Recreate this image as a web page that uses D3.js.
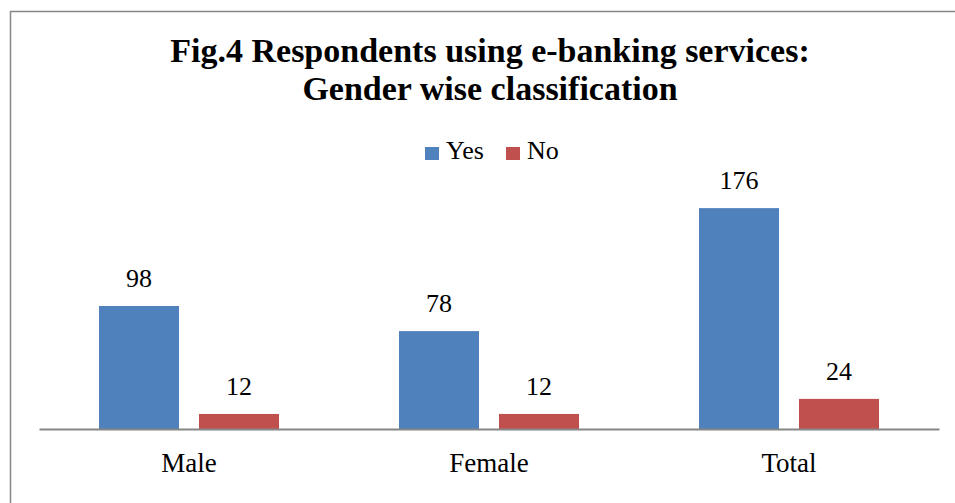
<!DOCTYPE html>
<html>
<head>
<meta charset="utf-8">
<script src="https://cdn.jsdelivr.net/npm/d3@7/dist/d3.min.js"></script>
<style>
  html, body { margin: 0; padding: 0; background: #fff; }
  svg { display: block; }
  text { font-family: "Liberation Serif", "DejaVu Serif", serif; fill: #000; }
</style>
</head>
<body>
<script>
// Respondents using e-banking services, by gender
const categories = ["Male", "Female", "Total"];
const seriesNames = ["Yes", "No"];
const yesValues = [98, 78, 176];
const noValues = [12, 12, 24];
const seriesColors = ["#4f81bd", "#c0504d"];

const W = 955, H = 503;
const FONT = "Liberation Serif, DejaVu Serif, serif";
const svg = d3.select("body").append("svg").attr("width", W).attr("height", H);

// outer chart frame
svg.append("rect").attr("x", 10.5).attr("y", 11.5).attr("width", W + 20).attr("height", H + 20)
  .attr("fill", "#fff").attr("stroke", "#868686").attr("stroke-width", 1.5);

// title
const title = svg.append("text").attr("text-anchor", "middle")
  .attr("font-weight", "bold").attr("font-size", 34).attr("font-family", FONT);
title.append("tspan").attr("x", 490).attr("y", 62).text("Fig.4 Respondents using e-banking services:");
title.append("tspan").attr("x", 490).attr("y", 100).text("Gender wise classification");

const plot = { left: 39, right: 939, top: 178, bottom: 429 };

const x0 = d3.scaleBand().domain(categories).range([plot.left, plot.right]).paddingInner(0).paddingOuter(0);
const x1 = d3.scaleBand().domain(seriesNames).range([0, x0.bandwidth()]).paddingInner(0.2).paddingOuter(0.6);
const y = d3.scaleLinear().domain([0, 200]).range([plot.bottom, plot.top]);

const data = categories.map((c, i) => ({ cat: c, vals: [yesValues[i], noValues[i]] }));

const groups = svg.append("g").selectAll("g").data(data).join("g")
  .attr("transform", d => `translate(${x0(d.cat)},0)`);

groups.selectAll("rect").data(d => d.vals.map((v, j) => ({ s: seriesNames[j], v, j })))
  .join("rect")
  .attr("x", d => x1(d.s))
  .attr("y", d => y(d.v))
  .attr("width", x1.bandwidth())
  .attr("height", d => y(0) - y(d.v))
  .attr("fill", d => seriesColors[d.j]);

groups.selectAll("text.val").data(d => d.vals.map((v, j) => ({ s: seriesNames[j], v, j })))
  .join("text").attr("class", "val")
  .attr("x", d => x1(d.s) + x1.bandwidth() / 2)
  .attr("y", d => y(d.v) - 19)
  .attr("text-anchor", "middle").attr("font-size", 26).attr("font-family", FONT)
  .text(d => d.v);

// category axis
const xAxis = svg.append("g").attr("transform", `translate(0,${plot.bottom})`)
  .call(d3.axisBottom(x0).tickSize(0).tickPadding(24));
xAxis.attr("font-family", FONT).attr("font-size", 27);
xAxis.select(".domain").attr("stroke", "#868686").attr("stroke-width", 2);
xAxis.selectAll("text").attr("fill", "#000").attr("dy", "0.71em");

// legend
const legendX = [425, 506];
seriesNames.forEach((s, i) => {
  const g = svg.append("g").attr("transform", `translate(${legendX[i]},146)`);
  g.append("rect").attr("y", 1).attr("width", 14).attr("height", 13).attr("fill", seriesColors[i]);
  g.append("text").attr("x", 21).attr("y", 13).attr("font-size", 26).attr("font-family", FONT).text(s);
});
</script>
</body>
</html>
